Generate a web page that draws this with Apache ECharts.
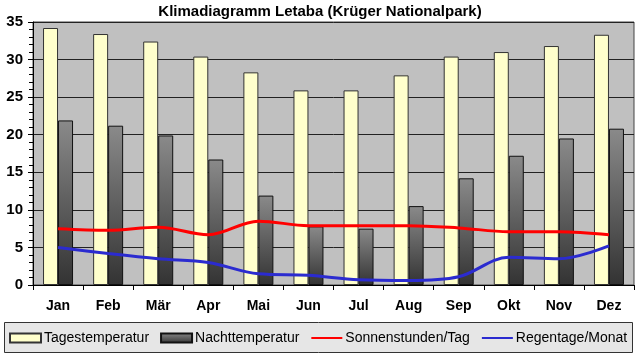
<!DOCTYPE html>
<html><head><meta charset="utf-8">
<script src="https://cdn.jsdelivr.net/npm/echarts@6/dist/echarts.min.js"></script>
<style>html,body{margin:0;padding:0;background:#fff}#c{width:640px;height:358px}</style>
</head><body><div id="c"></div>
<script>
var months = ['Jan','Feb','Mär','Apr','Mai','Jun','Jul','Aug','Sep','Okt','Nov','Dez'];
var tagesTemp = [34.2, 33.4, 32.4, 30.4, 28.3, 25.9, 25.9, 27.9, 30.4, 31.0, 31.8, 33.3];
var nachtTemp = [21.9, 21.2, 19.9, 16.7, 11.9, 7.8, 7.5, 10.5, 14.2, 17.2, 19.5, 20.8];
var sonnenstunden = [7.5, 7.3, 7.7, 6.7, 8.5, 7.9, 7.9, 7.9, 7.6, 7.1, 7.1, 6.7];
var regentage = [5.0, 4.2, 3.5, 3.0, 1.5, 1.3, 0.7, 0.6, 1.1, 3.7, 3.5, 5.2];
var yTicks = [0, 5, 10, 15, 20, 25, 30, 35];

var FONT = 'Liberation Sans, Arial, sans-serif';
var chart = echarts.init(document.getElementById('c'), null, {renderer: 'canvas'});
chart.setOption({
  backgroundColor: '#ffffff',
  animation: false,
  title: {
    text: 'Klimadiagramm Letaba (Krüger Nationalpark)',
    left: 'center', top: 4, padding: 0,
    textStyle: {fontFamily: FONT, fontSize: 15, fontWeight: 'bold', color: '#000'}
  },
  graphic: [{
    type: 'rect', z: -1, silent: true,
    shape: {x: 4.5, y: 322.5, width: 628, height: 30},
    style: {fill: '#e6e6e6', stroke: '#333', lineWidth: 1}
  }],
  legend: {
    left: 9, top: 331, padding: 0, itemGap: 11,
    itemWidth: 31, itemHeight: 9,
    textStyle: {fontFamily: FONT, fontSize: 14, color: '#000', padding: [0,0,0,-2]},
    data: [
      {name: 'Tagestemperatur', icon: 'rect'},
      {name: 'Nachttemperatur', icon: 'rect'},
      {name: 'Sonnenstunden/Tag', itemStyle: {opacity: 0}},
      {name: 'Regentage/Monat', itemStyle: {opacity: 0}}
    ]
  },
  grid: {left: 33, right: 6, top: 22, bottom: 73, show: true,
    backgroundColor: '#c0c0c0', borderColor: '#444', borderWidth: 1},
  xAxis: {
    type: 'category', data: months,
    axisLine: {lineStyle: {color: '#000', width: 1}},
    axisTick: {show: true, length: 5, lineStyle: {color: '#000'}},
    axisLabel: {fontFamily: FONT, fontSize: 14, fontWeight: 'bold', color: '#000', margin: 14}
  },
  yAxis: {
    type: 'value', min: yTicks[0], max: yTicks[yTicks.length-1], interval: 5,
    axisLine: {show: true, lineStyle: {color: '#000'}},
    axisTick: {show: true, length: 5, lineStyle: {color: '#000'}},
    minorTick: {show: true, splitNumber: 5, length: 4, lineStyle: {color: '#000'}},
    splitLine: {show: true, lineStyle: {color: '#222', width: 1}},
    axisLabel: {fontFamily: FONT, fontSize: 15, fontWeight: 'bold', color: '#000', margin: 10}
  },
  series: [
    {name: 'Tagestemperatur', type: 'bar', data: tagesTemp, barWidth: 15, barGap: '0%',
     itemStyle: {color: '#ffffcc', borderColor: '#333', borderWidth: 1}},
    {name: 'Nachttemperatur', type: 'bar', data: nachtTemp, barWidth: 15, barGap: '0%',
     itemStyle: {color: new echarts.graphic.LinearGradient(0,0,0,1,[
        {offset: 0, color: '#8a8a8a'}, {offset: 1, color: '#333333'}]),
       borderColor: '#111', borderWidth: 1}},
    {name: 'Sonnenstunden/Tag', type: 'line', data: sonnenstunden, smooth: 0.35,
     symbol: 'none', lineStyle: {color: '#ff0000', width: 3}, itemStyle: {color: '#ff0000'}},
    {name: 'Regentage/Monat', type: 'line', data: regentage, smooth: 0.35,
     symbol: 'none', lineStyle: {color: '#2b2bd0', width: 3}, itemStyle: {color: '#2b2bd0'}}
  ]
});
</script></body></html>
